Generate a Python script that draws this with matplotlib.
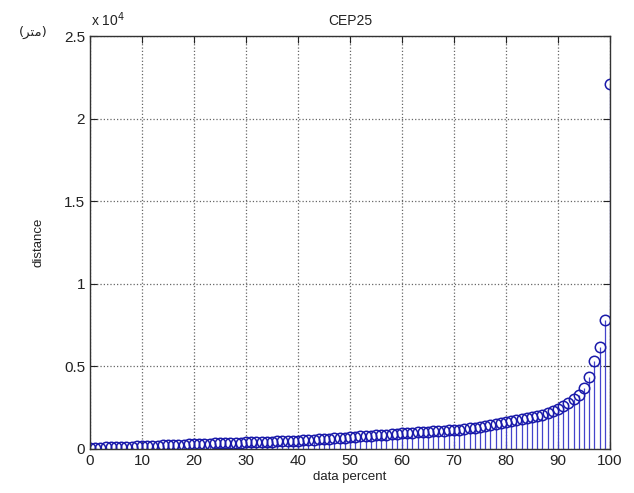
import matplotlib
matplotlib.use('Agg')
import matplotlib.pyplot as plt
import numpy as np
from matplotlib.ticker import FuncFormatter

# data percent (x) and sorted distances (y)
percent = np.arange(0, 101)
distance = [
    60, 80, 90, 100, 110, 120, 130, 140, 150, 160, 170,
    190, 200, 210, 220, 230, 250, 260, 270, 280, 300,
    310, 320, 330, 340, 350, 360, 370, 380, 390, 400,
    410, 420, 430, 440, 450, 460, 470, 480, 490, 500,
    520, 540, 560, 580, 600, 620, 640, 660, 690, 720,
    740, 760, 780, 800, 820, 840, 870, 900, 920, 950,
    970, 990, 1010, 1030, 1050, 1070, 1090, 1110, 1130, 1150,
    1180, 1220, 1260, 1300, 1350, 1400, 1450, 1500, 1560, 1620,
    1680, 1730, 1790, 1850, 1910, 1980, 2050, 2150, 2280, 2450,
    2600, 2800, 3000, 3250, 3700, 4350, 5300, 6200, 7800, 22100,
]
x_ticks = [0, 10, 20, 30, 40, 50, 60, 70, 80, 90, 100]
y_ticks = [0, 5000, 10000, 15000, 20000, 25000]

plt.rcParams['font.family'] = ['Liberation Sans', 'DejaVu Sans']

fig = plt.figure(figsize=(6.34, 4.93), dpi=100)
ax = fig.add_axes([90 / 634, 1 - 449 / 493, 520 / 634, 413 / 493])

markerline, stemlines, baseline = ax.stem(percent, distance)
plt.setp(stemlines, color='#4444cc', linewidth=0.9)
plt.setp(markerline, marker='o', markersize=7.5, markerfacecolor='none',
         markeredgecolor='#1a1aaa', markeredgewidth=1.1)
plt.setp(baseline, visible=False)

ax.set_xlim(0, 100)
ax.set_ylim(0, 25000)
ax.set_xticks(x_ticks)
ax.set_yticks(y_ticks)
ax.yaxis.set_major_formatter(FuncFormatter(lambda v, p: f'{v / 1e4:g}'))

# matlab-ish dotted grid
ax.grid(True, linestyle=':', color='#666666', linewidth=0.9)
ax.tick_params(direction='in', top=True, right=True, length=5,
               labelsize=11, colors='#222222', width=0.8)
for s in ax.spines.values():
    s.set_color('#333333')
    s.set_linewidth(1.0)

ax.set_title('CEP25', fontsize=10, color='#222222', pad=8)
ax.set_xlabel('data percent', fontsize=9.5, color='#222222', labelpad=2)
ax.set_ylabel('distance', fontsize=9.5, color='#222222', labelpad=14)

fig.text(91 / 634, 1 - 20 / 493, r'x 10$^{4}$', fontsize=10, color='#222222',
         va='center', ha='left')
# Arabic "(متر)" written with presentation forms in visual order
fig.text(33 / 634, 1 - 32 / 493, '(\uFEAE\uFE98\uFEE3)', fontsize=9.5,
         color='#222222', va='center', ha='center', family='DejaVu Sans')

fig.savefig('out.png', dpi=100)
